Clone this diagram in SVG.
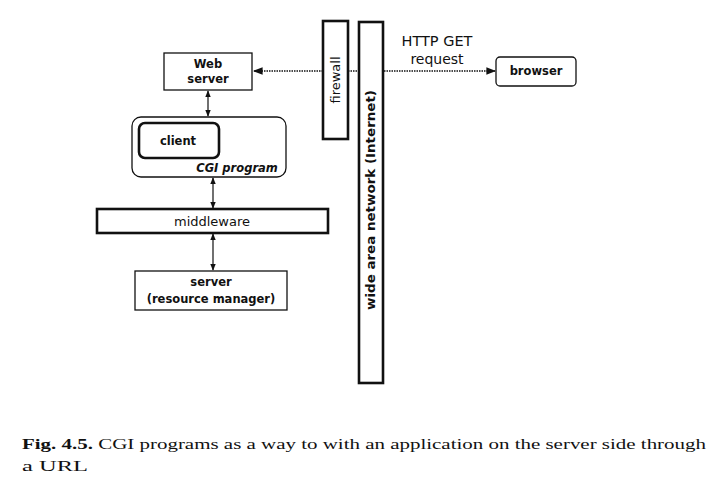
<svg xmlns="http://www.w3.org/2000/svg" width="722" height="499" viewBox="0 0 722 499">
<style>
.box{fill:#fff;stroke:#111;stroke-width:1.3}
.thick{fill:#fff;stroke:#111;stroke-width:2.6}
.t{font-family:"DejaVu Sans","Liberation Sans",sans-serif;font-weight:bold;font-size:11.5px;fill:#111;text-anchor:middle}
.n{font-family:"DejaVu Sans","Liberation Sans",sans-serif;font-size:13px;fill:#111;text-anchor:middle}
.solid{stroke:#111;stroke-width:1.2;fill:none}
.dot{stroke:#111;stroke-width:1.6;fill:none;stroke-dasharray:1.5 1}
.cap{font-family:"Liberation Serif","Times New Roman",serif;font-size:15.5px;fill:#111}
</style>
<defs>
<marker id="ah" viewBox="0 0 10 10" refX="9" refY="5" markerWidth="6" markerHeight="6" orient="auto-start-reverse">
<path d="M0,1 L10,5 L0,9 z" fill="#111"/>
</marker>
</defs>
<rect width="722" height="499" fill="#fff"/>
<g id="connectors">
<line class="dot" x1="323" y1="71" x2="254" y2="71" marker-end="url(#ah)"/>
<line class="dot" x1="348" y1="71" x2="359" y2="71"/>
<line class="dot" x1="384" y1="71" x2="495" y2="71" marker-end="url(#ah)"/>
<line class="solid" x1="208" y1="91" x2="208" y2="116" marker-start="url(#ah)" marker-end="url(#ah)"/>
<line class="solid" x1="213" y1="178" x2="213" y2="208" marker-start="url(#ah)" marker-end="url(#ah)"/>
<line class="solid" x1="213" y1="234" x2="213" y2="270" marker-start="url(#ah)" marker-end="url(#ah)"/>
</g>
<g id="http-label">
<text class="n" x="437" y="46" style="font-size:14.5px">HTTP GET</text>
<text class="n" x="437" y="64" style="font-size:14px">request</text>
</g>
<g id="web-server">
<rect class="box" x="164" y="53" width="88" height="37"/>
<text class="t" x="208" y="68">Web</text>
<text class="t" x="208" y="83">server</text>
</g>
<g id="firewall">
<rect class="thick" x="323" y="21" width="25" height="118"/>
<text class="n" transform="translate(340,80) rotate(-90)" x="0" y="0">firewall</text>
</g>
<g id="wan">
<rect class="thick" x="359" y="22" width="24" height="361"/>
<text class="t" transform="translate(375,200) rotate(-90)" x="0" y="0" style="font-size:12.5px" textLength="220" lengthAdjust="spacingAndGlyphs">wide area network (Internet)</text>
</g>
<g id="browser">
<rect class="box" x="496" y="57" width="80" height="29" rx="4"/>
<text class="t" x="536" y="75">browser</text>
</g>
<g id="cgi-program">
<rect class="box" x="132" y="117" width="154" height="60" rx="9"/>
<text class="t" x="237" y="172" style="font-style:italic">CGI program</text>
</g>
<g id="client">
<rect class="thick" x="139" y="123" width="80" height="35" rx="6"/>
<text class="t" x="178" y="145">client</text>
</g>
<g id="middleware">
<rect class="thick" x="97" y="209" width="231" height="24"/>
<text class="n" x="212" y="226">middleware</text>
</g>
<g id="server">
<rect class="box" x="135" y="271" width="152" height="39"/>
<text class="t" x="211" y="286">server</text>
<text class="t" x="211" y="303">(resource manager)</text>
</g>
<g id="caption">
<text class="cap" x="22" y="449" textLength="684" lengthAdjust="spacingAndGlyphs"><tspan style="font-weight:bold">Fig. 4.5.</tspan> CGI programs as a way to with an application on the server side through</text>
<text class="cap" x="22" y="471" textLength="66" lengthAdjust="spacingAndGlyphs">a URL</text>
</g>
</svg>
